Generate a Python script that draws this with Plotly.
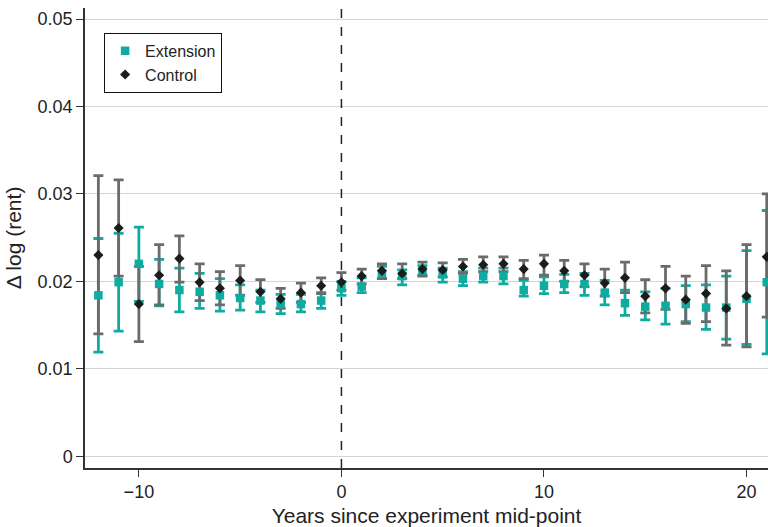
import plotly.graph_objects as go

# Years relative to the experiment mid-point
years = list(range(-12, 22))

# Extension group: point estimate and confidence interval bounds
ext_mean = [0.0184, 0.0199, 0.0220, 0.0197, 0.0190, 0.0188, 0.0184, 0.0181, 0.0178, 0.0174,
            0.0174, 0.0178, 0.0192, 0.0194, 0.0209, 0.0206, 0.0213, 0.0208, 0.0203, 0.0206,
            0.0206, 0.0190, 0.0195, 0.0197, 0.0197, 0.0187, 0.0175, 0.0171, 0.0172, 0.0174,
            0.0170, 0.0170, 0.0180, 0.0199]
ext_lo = [0.0119, 0.0143, 0.0177, 0.0172, 0.0165, 0.0169, 0.0166, 0.0167, 0.0165, 0.0163,
          0.0165, 0.0169, 0.0184, 0.0187, 0.0203, 0.0196, 0.0207, 0.0199, 0.0195, 0.0199,
          0.0197, 0.0183, 0.0186, 0.0187, 0.0184, 0.0173, 0.0161, 0.0156, 0.0151, 0.0154,
          0.0145, 0.0134, 0.0128, 0.0117]
ext_hi = [0.0249, 0.0255, 0.0262, 0.0225, 0.0215, 0.0209, 0.0203, 0.0196, 0.0190, 0.0185,
          0.0185, 0.0187, 0.0200, 0.0204, 0.0217, 0.0213, 0.0218, 0.0215, 0.0211, 0.0215,
          0.0215, 0.0201, 0.0205, 0.0208, 0.0209, 0.0201, 0.0190, 0.0188, 0.0192, 0.0195,
          0.0196, 0.0206, 0.0235, 0.0281]

# Control group: point estimate and confidence interval bounds
ctl_mean = [0.0230, 0.0261, 0.0174, 0.0207, 0.0226, 0.0199, 0.0192, 0.0201, 0.0188, 0.0180,
            0.0187, 0.0195, 0.0199, 0.0206, 0.0212, 0.0209, 0.0214, 0.0213, 0.0217, 0.0219,
            0.0220, 0.0214, 0.0220, 0.0212, 0.0207, 0.0198, 0.0204, 0.0183, 0.0192, 0.0179,
            0.0186, 0.0169, 0.0183, 0.0228]
ctl_lo = [0.0140, 0.0206, 0.0131, 0.0173, 0.0199, 0.0178, 0.0173, 0.0184, 0.0176, 0.0169,
          0.0176, 0.0186, 0.0190, 0.0197, 0.0203, 0.0203, 0.0206, 0.0205, 0.0209, 0.0211,
          0.0211, 0.0203, 0.0207, 0.0200, 0.0194, 0.0183, 0.0187, 0.0164, 0.0168, 0.0152,
          0.0154, 0.0127, 0.0125, 0.0159]
ctl_hi = [0.0321, 0.0316, 0.0217, 0.0242, 0.0252, 0.0220, 0.0211, 0.0218, 0.0202, 0.0192,
          0.0198, 0.0204, 0.0210, 0.0214, 0.0220, 0.0220, 0.0222, 0.0221, 0.0225, 0.0228,
          0.0228, 0.0224, 0.0230, 0.0224, 0.0220, 0.0214, 0.0222, 0.0202, 0.0217, 0.0206,
          0.0218, 0.0212, 0.0242, 0.0300]

y_ticks = [0, 0.01, 0.02, 0.03, 0.04, 0.05]
y_tick_text = ["0", "0.01", "0.02", "0.03", "0.04", "0.05"]
x_ticks = [-10, 0, 10, 20]

TEAL = "#0fab a0".replace(" ", "")
GRAY = "#6b6b6b"
DARK = "#1c1c1c"
FONT = "Liberation Sans, Arial, sans-serif"


def err(mean, lo, hi, color):
    return dict(
        type="data", symmetric=False,
        array=[h - m for h, m in zip(hi, mean)],
        arrayminus=[m - l for m, l in zip(mean, lo)],
        color=color, thickness=2.8, width=5,
    )


fig = go.Figure()

# Confidence intervals first, markers drawn on top of all bars
fig.add_trace(go.Scatter(
    x=years, y=ext_mean, mode="markers", showlegend=False, hoverinfo="skip",
    marker=dict(size=1, color="rgba(0,0,0,0)"),
    error_y=err(ext_mean, ext_lo, ext_hi, TEAL),
))
fig.add_trace(go.Scatter(
    x=years, y=ctl_mean, mode="markers", showlegend=False, hoverinfo="skip",
    marker=dict(size=1, color="rgba(0,0,0,0)"),
    error_y=err(ctl_mean, ctl_lo, ctl_hi, GRAY),
))
fig.add_trace(go.Scatter(
    x=years, y=ext_mean, mode="markers", name="Extension",
    marker=dict(symbol="square", size=8.5, color=TEAL),
))
fig.add_trace(go.Scatter(
    x=years, y=ctl_mean, mode="markers", name="Control",
    marker=dict(symbol="diamond", size=7.8, color=DARK),
))

# Vertical dashed reference line at the mid-point
fig.add_shape(type="line", xref="x", yref="paper", x0=0, x1=0, y0=0, y1=1,
              line=dict(color="#222222", width=1.5, dash="dash"))

fig.update_layout(
    width=768, height=527,
    margin=dict(l=85, r=0, t=8, b=59),
    paper_bgcolor="white", plot_bgcolor="white",
    font=dict(family=FONT, color="#222222"),
    legend=dict(
        x=0.028, y=0.946, xanchor="left", yanchor="top",
        bgcolor="white", bordercolor="#111111", borderwidth=1,
        font=dict(size=16, family=FONT, color="#222222"),
        itemwidth=30, tracegroupgap=0,
    ),
    showlegend=True,
)

fig.update_xaxes(
    range=[-12.66, 21.06], tickvals=x_ticks,
    showgrid=False, zeroline=False,
    showline=True, linecolor="#333333", linewidth=1.5,
    ticks="outside", ticklen=7, tickcolor="#333333", tickwidth=1.2,
    tickfont=dict(size=18, family=FONT, color="#222222"),
    title=dict(text="Years since experiment mid-point",
               font=dict(size=21, family=FONT, color="#222222"), standoff=7),
)
fig.update_yaxes(
    range=[-0.00135, 0.05126], tickvals=y_ticks, ticktext=y_tick_text,
    showgrid=True, gridcolor="#d4d4d4", gridwidth=1.2, zeroline=False,
    showline=True, linecolor="#333333", linewidth=1.5,
    ticks="outside", ticklen=7, tickcolor="#333333", tickwidth=1.2,
    tickfont=dict(size=18, family=FONT, color="#222222"),
    title=dict(text="Δ log (rent)",
               font=dict(size=21, family=FONT, color="#222222"), standoff=10),
)

fig.write_html("out.html")
